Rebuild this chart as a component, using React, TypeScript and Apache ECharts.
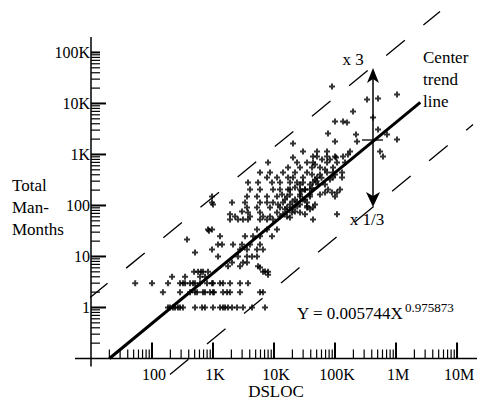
import React, { useEffect, useRef } from "react";
import * as echarts from "echarts";

const X_MIN = 10;
const X_MAX = 2e7;
const Y_MIN = 0.1;
const Y_MAX = 2e5;

const xDecades = [10, 100, 1000, 10000, 100000, 1000000, 10000000];
const xTickLabels = ["", "100", "1K", "10K", "100K", "1M", "10M"];
const yDecades = [0.1, 1, 10, 100, 1000, 10000, 100000];
const yTickLabels = ["", "1", "10", "100", "1K", "10K", "100K"];

// small projects sitting on whole man-month rows (DSLOC values)
const rowOneMonth = [183, 197, 221, 238, 267, 288, 322, 507, 660, 739, 1000, 1303, 1459, 1574, 1762, 2049, 2473, 3103, 4355, 7113];
const rowTwoMonths = [151, 288, 420, 507, 547, 686, 739, 893, 1000, 1038, 1459, 1698, 1901, 2773, 5890, 6607];
const rowThreeMonths = [53, 100, 183, 288, 322, 348, 420, 470, 507, 612, 797, 963, 1000, 1303, 1459, 1901, 2773, 3748];
const rowFourMonths = [213, 348, 612, 739];
const rowFiveMonths = [489, 568, 636, 686, 828, 6607, 7980];

// [DSLOC, man-months]
const smallProjects: [number, number][] = [
  [7113, 5.1], [7980, 4.4], [5890, 6.1],
  [1762, 6.4], [2773, 6.4], [5470, 6.4],
  [2049, 7.6], [3103, 7.6], [3606, 7.6],
  [1208, 10], [2570, 10], [3606, 10], [4355, 10], [5260, 10],
  [507, 12],
  [963, 13.7], [2773, 13.7], [3606, 13.7], [5260, 13.7], [6607, 13.7],
  [1208, 17.2], [1406, 17.2], [2128, 17.2], [2985, 17.2], [4045, 17.2], [5890, 17.2],
  [375, 21.5],
  [1303, 25], [3350, 25], [4529, 25], [5890, 25], [9270, 25],
  [860, 32],
  [828, 34], [963, 34], [5260, 34], [7674, 34], [11200, 34],
];

const mediumProjects: [number, number][] = [
  [1901, 53], [2570, 53], [3103, 53], [3748, 53], [5890, 53], [7674, 53], [9640, 53], [43550, 53],
  [2296, 61], [4045, 61], [6607, 61], [8590, 61], [12540, 61], [16330, 61],
  [1901, 67], [107800, 67],
  [3748, 73], [5890, 73], [11200, 73], [19720, 73], [26670, 73], [2985, 76],
  [3606, 91], [5260, 91], [8590, 91], [12540, 91], [16330, 91], [20480, 91], [34750, 91], [43550, 91],
  [1000, 105],
  [963, 115], [2049, 115], [3350, 115], [5890, 115], [7674, 115], [9640, 115], [14050, 115], [23820, 115], [34750, 115],
  [963, 150], [3606, 150], [5260, 150], [7674, 150], [11200, 150], [16330, 150], [26670, 150], [38900, 150], [100000, 150],
  [68550, 180], [89300, 180], [107800, 180],
  [4045, 206], [5890, 206], [9640, 206], [12540, 206], [18290, 206], [26670, 206], [32200, 206], [38900, 206], [120800, 206], [76740, 206],
  [3748, 282], [5470, 282], [9270, 282], [12540, 282], [18290, 282], [23820, 282], [29870, 282], [43550, 282],
  [7674, 354], [11200, 354], [16980, 354], [20480, 354], [29870, 354], [50700, 354], [92700, 354], [130300, 354],
  [5890, 444], [8590, 444], [14050, 444], [22080, 444], [34750, 444], [73960, 444], [92700, 444], [130300, 444],
  [16980, 556], [26670, 556], [41970, 556], [56760, 556], [92700, 556],
  [7980, 697], [23820, 697], [34750, 697], [43550, 697], [73960, 697], [107800, 697], [145900, 697],
];

// the dense core of the cloud around 10K-100K DSLOC
const denseCore: [number, number][] = [
  [15140, 131], [18290, 105], [22080, 131], [26670, 164], [32200, 206], [18290, 164],
  [15140, 84], [22080, 76], [26670, 105], [32200, 131], [38900, 164], [26670, 258],
  [38900, 258], [46990, 324], [56760, 406], [52600, 258], [22080, 225], [16980, 206],
  [13520, 164], [11640, 105], [14050, 67], [18290, 58], [32200, 67], [38900, 84],
  [46990, 105], [56760, 164], [68550, 258], [82790, 324], [100000, 406], [68550, 508],
  [46990, 637], [61240, 798], [82790, 798], [41970, 406], [29870, 131], [35000, 98],
  [24000, 95], [20000, 120], [28000, 190], [42000, 220], [50000, 300], [60000, 350],
];

const largeProjects: [number, number][] = [
  [20480, 873], [103800, 873], [612000, 914],
  [43550, 914], [50700, 914], [73960, 914], [100000, 914], [135300, 914],
  [163300, 1000],
  [29870, 1145], [50700, 1145], [73960, 1145], [176200, 1145], [547000, 1145],
  [20480, 1643],
  [100000, 1798], [229600, 1798],
  [1038000, 1968],
  [220800, 2466], [711000, 2466],
  [76740, 2582],
  [507000, 3090],
  [157400, 4240],
  [100000, 4436], [135300, 4436],
  [420000, 5310],
  [197300, 6970],
  [335000, 11970],
  [507000, 12540],
  [1038000, 15000],
  [89300, 21540],
];

// line end points: [DSLOC, man-months]
const trendLine: [number, number][] = [[20, 0.1], [2.5e6, 10500]];
const upperBound: [number, number][] = [[9.27, 1.5], [5.26e6, 637000]];
const lowerBound: [number, number][] = [[197, 0.0485], [1.83e7, 3873]];

const FONT = '"Liberation Serif", "Times New Roman", serif';
const PLUS = "path://M2 0H4V2H6V4H4V6H2V4H0V2H2Z";

function minorTicks(decades: number[], limit: number): number[] {
  const out: number[] = [];
  decades.forEach((d) => {
    for (let k = 2; k <= 9; k++) {
      if (d * k < limit * 0.999) out.push(d * k);
    }
  });
  return out;
}

export default function App() {
  const ref = useRef<HTMLDivElement>(null);

  useEffect(() => {
    if (!ref.current) return;
    const chart = echarts.init(ref.current, null, { renderer: "svg" });

    const points: [number, number][] = [
      ...rowOneMonth.map((x) => [x, 1] as [number, number]),
      ...rowTwoMonths.map((x) => [x, 2] as [number, number]),
      ...rowThreeMonths.map((x) => [x, 3] as [number, number]),
      ...rowFourMonths.map((x) => [x, 4] as [number, number]),
      ...rowFiveMonths.map((x) => [x, 5] as [number, number]),
      ...smallProjects,
      ...mediumProjects,
      ...denseCore,
      ...largeProjects,
    ];

    const xMinor = minorTicks(xDecades, X_MAX);
    const yMinor = minorTicks(yDecades, Y_MAX);

    const txt = (x: number, y: number, text: string, size = 17, align = "left") => ({
      type: "text",
      x,
      y,
      silent: true,
      style: { text, fontSize: size, fontFamily: FONT, fill: "#000", align, verticalAlign: "middle" },
    });

    const option: any = {
      animation: false,
      backgroundColor: "#fff",
      grid: { left: 91, top: 37.1, width: 384.4, height: 321.4, containLabel: false },
      xAxis: {
        type: "log",
        logBase: 10,
        min: X_MIN,
        max: X_MAX,
        axisLine: { show: false },
        axisTick: { show: false },
        axisLabel: { show: false },
        splitLine: { show: false },
      },
      yAxis: {
        type: "log",
        logBase: 10,
        min: Y_MIN,
        max: Y_MAX,
        axisLine: { show: false },
        axisTick: { show: false },
        axisLabel: { show: false },
        splitLine: { show: false },
      },
      series: [
        {
          type: "line",
          data: upperBound,
          clip: false,
          symbol: "none",
          silent: true,
          lineStyle: { color: "#000", width: 1.3, type: [24, 24] },
        },
        {
          type: "line",
          data: lowerBound,
          clip: false,
          symbol: "none",
          silent: true,
          lineStyle: { color: "#000", width: 1.3, type: [24, 24] },
        },
        {
          type: "scatter",
          data: points,
          symbol: PLUS,
          symbolSize: 6,
          silent: true,
          itemStyle: { color: "#000" },
        },
        {
          type: "line",
          data: trendLine,
          clip: false,
          symbol: "none",
          silent: true,
          lineStyle: { color: "#000", width: 3 },
        },
        {
          type: "custom",
          coordinateSystem: "cartesian2d",
          clip: false,
          silent: true,
          data: [[X_MIN, Y_MIN]],
          renderItem: (_p: any, api: any) => {
            const p0 = api.coord([X_MIN, Y_MIN]);
            const pt = api.coord([X_MIN, Y_MAX]);
            return {
              type: "group",
              children: [
                { type: "line", shape: { x1: p0[0] - 16, y1: p0[1], x2: 477, y2: p0[1] }, style: { stroke: "#000", lineWidth: 1.5 } },
                { type: "line", shape: { x1: p0[0], y1: pt[1], x2: p0[0], y2: p0[1] + 8 }, style: { stroke: "#000", lineWidth: 1.5 } },
              ],
            };
          },
        },
        {
          type: "custom",
          coordinateSystem: "cartesian2d",
          clip: false,
          silent: true,
          data: xMinor.map((v) => [v, Y_MIN]),
          renderItem: (_p: any, api: any) => {
            const p = api.coord([api.value(0), api.value(1)]);
            return { type: "line", shape: { x1: p[0], y1: p[1], x2: p[0], y2: p[1] - 9 }, style: { stroke: "#000", lineWidth: 1.2 } };
          },
        },
        {
          type: "custom",
          coordinateSystem: "cartesian2d",
          clip: false,
          silent: true,
          data: xDecades.map((v) => [v, Y_MIN]),
          renderItem: (params: any, api: any) => {
            const p = api.coord([api.value(0), api.value(1)]);
            const i = params.dataIndex;
            if (i === 0) return { type: "group", children: [] };
            return {
              type: "group",
              children: [
                { type: "line", shape: { x1: p[0], y1: p[1], x2: p[0], y2: p[1] - 16 }, style: { stroke: "#000", lineWidth: 2 } },
                {
                  type: "text",
                  x: p[0] + 2,
                  y: p[1] + 16,
                  style: { text: xTickLabels[i], fontSize: 16, fontFamily: FONT, fill: "#000", align: "center", verticalAlign: "middle" },
                },
              ],
            };
          },
        },
        {
          type: "custom",
          coordinateSystem: "cartesian2d",
          clip: false,
          silent: true,
          data: yMinor.map((v) => [X_MIN, v]),
          renderItem: (_p: any, api: any) => {
            const p = api.coord([api.value(0), api.value(1)]);
            return { type: "line", shape: { x1: p[0], y1: p[1], x2: p[0] + 9, y2: p[1] }, style: { stroke: "#000", lineWidth: 1.2 } };
          },
        },
        {
          type: "custom",
          coordinateSystem: "cartesian2d",
          clip: false,
          silent: true,
          data: yDecades.map((v) => [X_MIN, v]),
          renderItem: (params: any, api: any) => {
            const p = api.coord([api.value(0), api.value(1)]);
            const i = params.dataIndex;
            if (i === 0) return { type: "group", children: [] };
            const len = i === yDecades.length - 1 ? 9 : 15;
            return {
              type: "group",
              children: [
                { type: "line", shape: { x1: p[0], y1: p[1], x2: p[0] + len, y2: p[1] }, style: { stroke: "#000", lineWidth: 2 } },
                {
                  type: "text",
                  x: p[0] - 1,
                  y: p[1],
                  style: { text: yTickLabels[i], fontSize: 16, fontFamily: FONT, fill: "#000", align: "right", verticalAlign: "middle" },
                },
              ],
            };
          },
        },
      ],
      graphic: [
        txt(12, 185, "Total"),
        txt(12, 207, "Man-"),
        txt(12, 229, "Months"),
        txt(276, 391, "DSLOC", 17, "center"),
        txt(423, 57, "Center"),
        txt(423, 79, "trend"),
        txt(423, 101, "line"),
        txt(353, 59, "x 3", 17, "center"),
        {
          type: "text",
          x: 367,
          y: 219,
          silent: true,
          style: {
            text: "x 1/3",
            fontSize: 17,
            fontFamily: FONT,
            fill: "#000",
            align: "center",
            verticalAlign: "middle",
            backgroundColor: "#fff",
            padding: [1, 2],
          },
        },
        txt(297, 313, "Y = 0.005744X"),
        txt(405, 307, "0.975873", 13),
        { type: "line", silent: true, shape: { x1: 373, y1: 78, x2: 373, y2: 196 }, style: { stroke: "#000", lineWidth: 1.5 } },
        { type: "polygon", silent: true, shape: { points: [[373, 68], [367, 83], [373, 79], [379, 83]] }, style: { fill: "#000" } },
        { type: "polygon", silent: true, shape: { points: [[373, 207], [366, 192], [373, 196], [380, 192]] }, style: { fill: "#000" } },
        { type: "line", silent: true, shape: { x1: 362, y1: 140, x2: 383, y2: 140 }, style: { stroke: "#000", lineWidth: 1.3 } },
      ],
    };

    chart.setOption(option);
    return () => chart.dispose();
  }, []);

  return <div ref={ref} style={{ position: "fixed", left: 0, top: 0, width: 477, height: 400, background: "#fff" }} />;
}
